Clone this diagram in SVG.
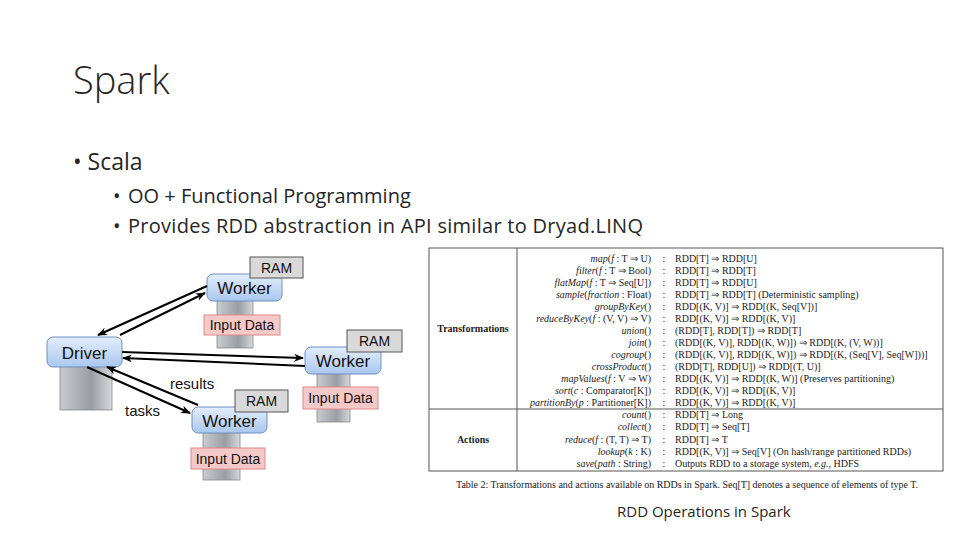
<svg xmlns="http://www.w3.org/2000/svg" width="960" height="540" viewBox="0 0 960 540">
<defs>
<marker id="ah" markerWidth="10" markerHeight="8" refX="9" refY="4" orient="auto" markerUnits="userSpaceOnUse"><path d="M0,0 L10,4 L0,8 L3,4 z" fill="#000"/></marker>
<linearGradient id="blue" x1="0" y1="0" x2="0" y2="1"><stop offset="0" stop-color="#e3eefc"/><stop offset="1" stop-color="#a9c7ee"/></linearGradient>
<linearGradient id="srv" x1="0" y1="0" x2="1" y2="0"><stop offset="0" stop-color="#c8cbcf"/><stop offset="0.6" stop-color="#9a9ea4"/><stop offset="1" stop-color="#d6d8db"/></linearGradient>
</defs>
<style>
.s{font-family:"Open Sans","Liberation Sans",sans-serif;fill:#262626}
.d{font-family:"Liberation Sans",Arial,sans-serif;fill:#111}
.t{font-family:"Liberation Serif","Times New Roman",serif;font-size:10px;fill:#222}
.i{font-style:italic}
.box{fill:url(#blue);stroke:#6f8fbf;stroke-width:1}
.ram{fill:#d9d9d9;stroke:#555;stroke-width:1}
.inp{fill:#f6c9c9;stroke:#d88;stroke-width:1}
.sv{fill:url(#srv);stroke:#888;stroke-width:0.8}
.c{stroke:#000;stroke-width:2;fill:none;marker-end:url(#ah)}
</style>
<rect width="960" height="540" fill="#fff"/>
<text class="s" x="73" y="94" font-size="38" font-weight="300">Spark</text>
<text class="s" x="73" y="170" font-size="23">• Scala</text>
<text class="s" x="113" y="203" font-size="20">•</text>
<text class="s" x="128" y="203" font-size="20">OO + Functional Programming</text>
<text class="s" x="113" y="233" font-size="20">•</text>
<text class="s" x="128" y="233" font-size="20" textLength="515">Provides RDD abstraction in API similar to Dryad.LINQ</text>

<g id="driver">
<rect class="sv" x="60" y="362" width="52" height="48"/>
<rect class="box" x="47" y="337" width="75" height="30" rx="6"/>
<text class="d" x="84.5" y="359" font-size="17" text-anchor="middle">Driver</text>
</g>
<g id="worker1">
<rect class="sv" x="217" y="298" width="36" height="50"/>
<rect class="box" x="207" y="274" width="75" height="27" rx="6"/>
<rect class="ram" x="250" y="257" width="53" height="21"/>
<text class="d" x="276.5" y="273" font-size="14" text-anchor="middle">RAM</text>
<text class="d" x="244.5" y="294" font-size="17" text-anchor="middle">Worker</text>
<rect class="inp" x="204" y="315" width="76" height="20"/>
<text class="d" x="242" y="330" font-size="14" text-anchor="middle">Input Data</text>
</g>
<g id="worker2">
<rect class="sv" x="317" y="372" width="33" height="50"/>
<rect class="box" x="305" y="347" width="76" height="27" rx="6"/>
<rect class="ram" x="347" y="330" width="55" height="22"/>
<text class="d" x="374.5" y="346" font-size="14" text-anchor="middle">RAM</text>
<text class="d" x="343" y="367" font-size="17" text-anchor="middle">Worker</text>
<rect class="inp" x="303" y="387" width="75" height="22"/>
<text class="d" x="340.5" y="403" font-size="14" text-anchor="middle">Input Data</text>
</g>
<g id="worker3">
<rect class="sv" x="203" y="432" width="37" height="48"/>
<rect class="box" x="192" y="407" width="75" height="26" rx="6"/>
<rect class="ram" x="235" y="390" width="53" height="22"/>
<text class="d" x="261.5" y="406" font-size="14" text-anchor="middle">RAM</text>
<text class="d" x="229.5" y="427" font-size="17" text-anchor="middle">Worker</text>
<rect class="inp" x="191" y="448" width="74" height="21"/>
<text class="d" x="228" y="464" font-size="14" text-anchor="middle">Input Data</text>
</g>
<g id="connectors">
<line class="c" x1="120" y1="335" x2="205" y2="293"/>
<line class="c" x1="207" y1="286" x2="98" y2="335"/>
<line class="c" x1="122" y1="352" x2="303" y2="358"/>
<line class="c" x1="305" y1="366" x2="123" y2="358"/>
<line class="c" x1="87" y1="367" x2="190" y2="413"/>
<line class="c" x1="198" y1="405" x2="107" y2="367"/>
<text class="d" x="170" y="389" font-size="15">results</text>
<text class="d" x="125" y="416" font-size="15">tasks</text>
</g>

<g id="table">
<rect x="429" y="248" width="514" height="223" fill="#fff" stroke="#555" stroke-width="1"/>
<line x1="517" y1="248" x2="517" y2="471" stroke="#555"/>
<line x1="429" y1="409" x2="943" y2="409" stroke="#555"/>
<text class="t" x="473" y="332" text-anchor="middle" font-weight="bold">Transformations</text>
<text class="t" x="473" y="443" text-anchor="middle" font-weight="bold">Actions</text>
<g text-anchor="end">
<text class="t" x="651" y="262"><tspan class="i">map</tspan>(<tspan class="i">f</tspan> : T ⇒ U)</text>
<text class="t" x="651" y="274"><tspan class="i">filter</tspan>(<tspan class="i">f</tspan> : T ⇒ Bool)</text>
<text class="t" x="651" y="286"><tspan class="i">flatMap</tspan>(<tspan class="i">f</tspan> : T ⇒ Seq[U])</text>
<text class="t" x="651" y="298"><tspan class="i">sample</tspan>(<tspan class="i">fraction</tspan> : Float)</text>
<text class="t" x="651" y="310"><tspan class="i">groupByKey</tspan>()</text>
<text class="t" x="651" y="322"><tspan class="i">reduceByKey</tspan>(<tspan class="i">f</tspan> : (V, V) ⇒ V)</text>
<text class="t" x="651" y="334"><tspan class="i">union</tspan>()</text>
<text class="t" x="651" y="346"><tspan class="i">join</tspan>()</text>
<text class="t" x="651" y="358"><tspan class="i">cogroup</tspan>()</text>
<text class="t" x="651" y="370"><tspan class="i">crossProduct</tspan>()</text>
<text class="t" x="651" y="382"><tspan class="i">mapValues</tspan>(<tspan class="i">f</tspan> : V ⇒ W)</text>
<text class="t" x="651" y="394"><tspan class="i">sort</tspan>(<tspan class="i">c</tspan> : Comparator[K])</text>
<text class="t" x="651" y="406"><tspan class="i">partitionBy</tspan>(<tspan class="i">p</tspan> : Partitioner[K])</text>
<text class="t" x="651" y="418"><tspan class="i">count</tspan>()</text>
<text class="t" x="651" y="430"><tspan class="i">collect</tspan>()</text>
<text class="t" x="651" y="443"><tspan class="i">reduce</tspan>(<tspan class="i">f</tspan> : (T, T) ⇒ T)</text>
<text class="t" x="651" y="455"><tspan class="i">lookup</tspan>(<tspan class="i">k</tspan> : K)</text>
<text class="t" x="651" y="467"><tspan class="i">save</tspan>(<tspan class="i">path</tspan> : String)</text>
</g>
<g text-anchor="middle">
<text class="t" x="664" y="262">:</text><text class="t" x="664" y="274">:</text><text class="t" x="664" y="286">:</text><text class="t" x="664" y="298">:</text><text class="t" x="664" y="310">:</text><text class="t" x="664" y="322">:</text><text class="t" x="664" y="334">:</text><text class="t" x="664" y="346">:</text><text class="t" x="664" y="358">:</text><text class="t" x="664" y="370">:</text><text class="t" x="664" y="382">:</text><text class="t" x="664" y="394">:</text><text class="t" x="664" y="406">:</text><text class="t" x="664" y="418">:</text><text class="t" x="664" y="430">:</text><text class="t" x="664" y="443">:</text><text class="t" x="664" y="455">:</text><text class="t" x="664" y="467">:</text>
</g>
<text class="t" x="675" y="262">RDD[T] ⇒ RDD[U]</text>
<text class="t" x="675" y="274">RDD[T] ⇒ RDD[T]</text>
<text class="t" x="675" y="286">RDD[T] ⇒ RDD[U]</text>
<text class="t" x="675" y="298">RDD[T] ⇒ RDD[T]  (Deterministic sampling)</text>
<text class="t" x="675" y="310">RDD[(K, V)] ⇒ RDD[(K, Seq[V])]</text>
<text class="t" x="675" y="322">RDD[(K, V)] ⇒ RDD[(K, V)]</text>
<text class="t" x="675" y="334">(RDD[T], RDD[T]) ⇒ RDD[T]</text>
<text class="t" x="675" y="346">(RDD[(K, V)], RDD[(K, W)]) ⇒ RDD[(K, (V, W))]</text>
<text class="t" x="675" y="358">(RDD[(K, V)], RDD[(K, W)]) ⇒ RDD[(K, (Seq[V], Seq[W]))]</text>
<text class="t" x="675" y="370">(RDD[T], RDD[U]) ⇒ RDD[(T, U)]</text>
<text class="t" x="675" y="382">RDD[(K, V)] ⇒ RDD[(K, W)]  (Preserves partitioning)</text>
<text class="t" x="675" y="394">RDD[(K, V)] ⇒ RDD[(K, V)]</text>
<text class="t" x="675" y="406">RDD[(K, V)] ⇒ RDD[(K, V)]</text>
<text class="t" x="675" y="418">RDD[T] ⇒ Long</text>
<text class="t" x="675" y="430">RDD[T] ⇒ Seq[T]</text>
<text class="t" x="675" y="443">RDD[T] ⇒ T</text>
<text class="t" x="675" y="455">RDD[(K, V)] ⇒ Seq[V]  (On hash/range partitioned RDDs)</text>
<text class="t" x="675" y="467">Outputs RDD to a storage system, <tspan class="i">e.g.</tspan>, HDFS</text>
<text class="t" x="456" y="488" textLength="462">Table 2: Transformations and actions available on RDDs in Spark. Seq[T] denotes a sequence of elements of type T.</text>
</g>
<text class="s" x="617" y="517" font-size="15">RDD Operations in Spark</text>
</svg>
